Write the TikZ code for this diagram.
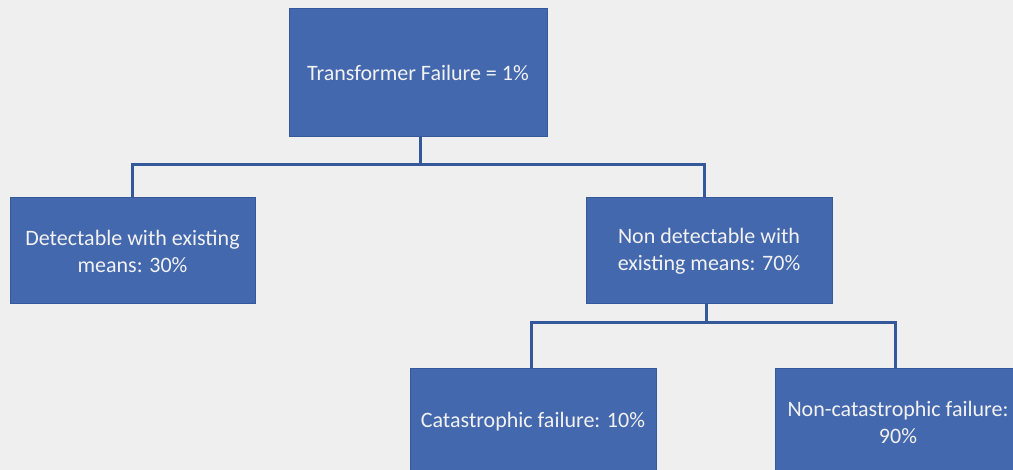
\documentclass[tikz,border=0pt]{standalone}
\usepackage{fontspec}
\setmainfont{Carlito}
\definecolor{bg}{HTML}{EFEFEF}
\definecolor{boxfill}{HTML}{4468AE}
\definecolor{boxedge}{HTML}{34589A}
\definecolor{txt}{HTML}{F2F2F2}
\tikzset{
  blk/.style={draw=boxedge, line width=1pt, fill=boxfill, text=txt, align=center,
    inner sep=0pt, font=\fontsize{22}{27}\selectfont},
  conn/.style={draw=boxedge, line width=3pt}
}
\begin{document}
\begin{tikzpicture}[x=1pt,y=-1pt]
\useasboundingbox (0,0) rectangle (1013,470);
\fill[bg] (0,0) rectangle (1013,470);
\clip (0,0) rectangle (1013,470);
\node[blk, minimum width=258pt, minimum height=128pt] (top) at (418,73) {Transformer Failure = 1\%};
\node[blk, minimum width=245pt, minimum height=106pt] (det) at (132.5,251) {Detectable with existing\\means: 30\%};
\node[blk, minimum width=246pt, minimum height=106pt] (non) at (709,251) {Non detectable with\\existing means: 70\%};
\node[blk, minimum width=246pt, minimum height=106pt] (cat) at (533,422) {Catastrophic failure: 10\%};
\node[blk, minimum width=246pt, minimum height=106pt] (ncat) at (898,422) {Non-catastrophic failure:\\90\%};
\coordinate (j1) at (420,165);
\coordinate (j2) at (706,323);
\draw[conn] (top.south -| j1) -- (j1);
\draw[conn] (j1) -| (det.north);
\draw[conn] (j1) -| ([xshift=-5pt]non.north);
\draw[conn] (non.south -| j2) -- (j2);
\draw[conn] (j2) -| ([xshift=-2pt]cat.north);
\draw[conn] (j2) -| ([xshift=-3pt]ncat.north);
\end{tikzpicture}
\end{document}
